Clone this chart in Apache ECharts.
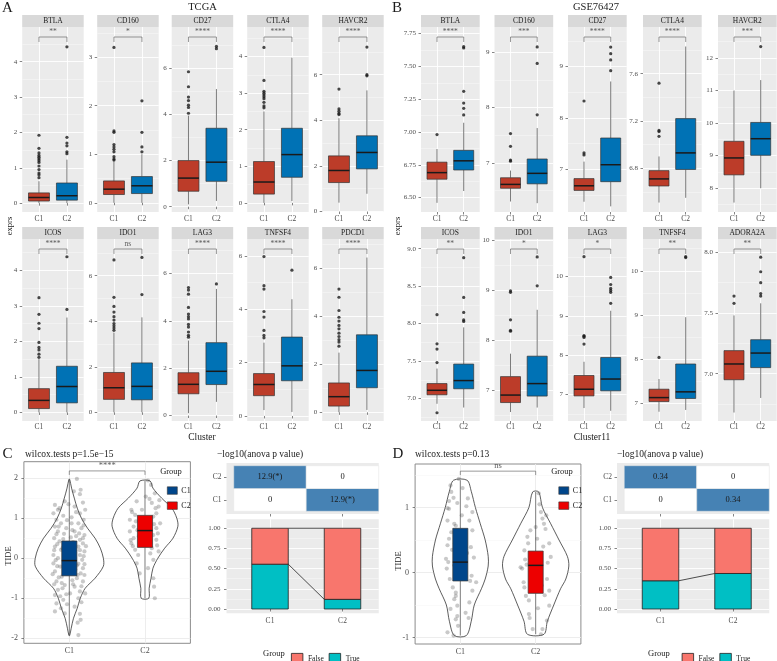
<!DOCTYPE html>
<html><head><meta charset="utf-8">
<script src="https://cdn.jsdelivr.net/npm/echarts@6/dist/echarts.min.js"></script>
<style>html,body{margin:0;padding:0;background:#fff}#c{width:777px;height:661px}</style>
</head><body><div id="c"></div>
<script>
const FONT = '"Liberation Serif","DejaVu Serif",serif';
const clusterCats = ['C1', 'C2'];

// ---------- Panel A : TCGA ----------
const tcgaGenes = ['BTLA','CD160','CD27','CTLA4','HAVCR2','ICOS','IDO1','LAG3','TNFSF4','PDCD1'];
const tcgaSig = ['**','*','****','****','****','****','ns','****','****','****'];
const tcgaTickLabels = [['0','1','2','3','4'],['0','1','2','3'],['0','2','4','6'],['0','1','2','3','4'],['0','2','4','6'],
                        ['0','1','2','3','4'],['0','2','4','6'],['0','2','4','6'],['0','2','4','6'],['0','2','4','6']];
const tcgaYMin = [-0.25,-0.19,-0.23,-0.25,-0.02,-0.24,-0.38,-0.23,-0.19,-0.36];
const tcgaYMax = [4.98,3.62,7.79,4.81,8.09,4.88,7.61,7.46,6.64,7.2];
// [lower whisker, q1, median, q3, upper whisker]
const tcgaC1Box = [[0,0.06,0.16,0.29,0.62],[0,0.17,0.28,0.45,0.85],[0.1,0.67,1.24,2.0,3.95],[0,0.24,0.57,1.13,2.5],[0.39,1.27,1.8,2.44,4.09],
                   [0,0.11,0.34,0.67,1.5],[0,0.57,1.08,1.75,3.5],[0.1,0.92,1.32,1.81,3.17],[0.22,0.76,1.18,1.59,2.75],[0,0.26,0.65,1.22,2.48]];
const tcgaC2Box = [[0,0.085,0.21,0.57,1.23],[0,0.19,0.35,0.54,1.0],[0.25,1.1,1.93,3.4,5.1],[0.05,0.7,1.32,2.04,3.97],[0.78,1.87,2.59,3.32,5.31],
                   [0,0.27,0.73,1.3,2.67],[0,0.55,1.14,2.17,4.17],[0.58,1.31,1.87,3.08,5.35],[0.15,1.32,1.88,2.96,4.38],[0.1,1.02,1.74,3.22,6.43]];
const tcgaC1Out = [[1.92,1.55,1.42,1.35,1.3,1.25,1.2,1.15,1.05,0.95,0.85,0.8,0.72],[3.2,1.48,1.45,1.2,1.15,1.1,1.05,0.95,0.9,0.88],
                   [5.85,5.2,4.75,4.6,4.4,4.3,4.05],[4.25,3.35,3.05,3.0,2.95,2.9,2.85,2.75,2.65,2.6],[5.37,4.5,4.4,4.3,4.25],
                   [3.23,2.76,2.51,2.36,1.97,1.83,1.76,1.64,1.55],[6.69,5.05,4.65,4.4,4.2,4.05,3.9,3.8,3.7,3.6],
                   [5.41,5.3,5.13,4.57,4.29,4.18,4.08,3.85,3.74,3.53,3.39,3.31],[5.98,4.89,4.76,3.92,3.71,3.21,3.02,2.93],
                   [5.12,4.78,4.23,3.95,3.79,3.61,3.47,3.29,3.15,3.02,2.92,2.75]];
const tcgaC2Out = [[4.42,1.86,1.7,1.62,1.45,1.4],[2.1,1.45,1.15,1.05],[6.85,6.95],[],[7.21,6.0,5.95],
                   [4.38,2.9],[6.8,5.17],[5.56],[5.47],[]];

// ---------- Panel B : GSE76427 ----------
const gseGenes = ['BTLA','CD160','CD27','CTLA4','HAVCR2','ICOS','IDO1','LAG3','TNFSF4','ADORA2A'];
const gseSig = ['****','***','****','****','***','**','*','*','**','**'];
const gseTickLabels = [['6.50','6.75','7.00','7.25','7.50','7.75'],['7','8','9'],['7','8','9'],['6.8','7.2','7.6'],['8','9','10','11','12'],
                       ['7.0','7.5','8.0','8.5','9.0'],['7','8','9','10'],['7','8','9','10'],['7','8','9','10'],['7.0','7.5','8.0']];
const gseYMin = [6.39,6.11,6.17,6.43,7.27,6.70,6.38,6.32,6.60,6.61];
const gseYMax = [7.80,9.46,9.77,7.995,12.95,9.13,10.03,10.96,10.72,8.11];
const gseC1Box = [[6.46,6.64,6.69,6.77,6.87],[6.3,6.54,6.61,6.73,6.86],[6.37,6.59,6.68,6.82,7.15],[6.51,6.65,6.71,6.78,6.9],[7.56,8.41,8.93,9.44,11.0],
                  [6.93,7.05,7.11,7.2,7.4],[6.56,6.75,6.9,7.27,7.73],[6.65,6.96,7.13,7.48,7.83],[6.81,7.04,7.13,7.32,7.55],[6.68,6.95,7.08,7.19,7.48]];
const gseC2Box = [[6.55,6.71,6.78,6.86,7.07],[6.27,6.62,6.81,7.07,7.63],[6.28,6.76,7.09,7.61,8.71],[6.55,6.79,6.93,7.22,7.83],[8.0,9.01,9.52,10.02,11.32],
                  [6.88,7.13,7.24,7.46,7.95],[6.65,6.88,7.13,7.68,8.61],[6.58,7.09,7.39,7.94,9.13],[6.85,7.11,7.26,7.89,8.95],[6.8,7.05,7.17,7.28,7.58]];
const gseC1Out = [[6.98],[7.03,7.05,7.3,7.53],[7.28,7.32,8.33],[7.07,7.11,7.12,7.52],[],
                  [8.12,7.73,7.66,7.48,6.81],[8.18,8.2,8.41,8.96,8.99],[8.28,8.45,8.48,8.5,10.51],[8.04],[7.58,7.64]];
const gseC2Out = [[7.13,7.18,7.22,7.31,7.64,7.65],[7.87,8.8,9.1],[8.92,9.13,9.25,9.38],[],[12.35],
                  [8.03,8.05,8.15,8.35,8.88],[9.09,9.67],[9.32,9.6,9.65,9.7,9.8,9.98],[10.3,10.32],[7.64,7.66,7.75,7.84,7.96]];

// ---------- Panel C / D : TIDE violins ----------
const cTicks = ['-2','-1','0','1','2'];
const dTicks = ['-1','0','1'];
const cViolinC1 = [[1.97,0.005],[1.75,0.03],[1.5,0.066],[1.25,0.105],[1.0,0.16],[0.75,0.24],[0.5,0.34],[0.25,0.41],[0,0.45],[-0.2,0.45],[-0.5,0.34],[-0.75,0.21],[-1,0.145],[-1.25,0.105],[-1.5,0.055],[-1.75,0.025],[-1.93,0.005]];
const cViolinC2 = [[1.93,0.066],[1.75,0.105],[1.5,0.22],[1.25,0.355],[1.0,0.42],[0.8,0.435],[0.5,0.37],[0.25,0.26],[0,0.17],[-0.25,0.105],[-0.5,0.08],[-0.75,0.055],[-1.0,0.05]];
const dViolinC1 = [[1.42,0.09],[1.25,0.145],[1.0,0.2],[0.75,0.265],[0.5,0.33],[0.25,0.37],[0.1,0.37],[-0.1,0.33],[-0.25,0.28],[-0.5,0.185],[-0.75,0.145],[-0.97,0.08]];
const dViolinC2 = [[1.24,0.04],[1.0,0.09],[0.75,0.2],[0.5,0.31],[0.25,0.42],[0.1,0.44],[-0.1,0.4],[-0.25,0.33],[-0.5,0.24],[-0.75,0.155],[-0.95,0.11]];
const cBoxC1 = [-1.93,-0.44,-0.06,0.43,1.97];
const cBoxC2 = [-1.0,0.27,0.69,1.07,1.93];
const dBoxC1 = [-0.97,-0.13,0.16,0.68,1.42];
const dBoxC2 = [-0.95,-0.32,0.11,0.33,1.24];
const cSigLevels = [2.08, 2.18]; const cSigText = '****';
const dSigLevels = [1.50, 1.56]; const dSigText = 'ns';
// jitter points: [offset from group centre, TIDE]
const cPtsC1 = [[0.10,1.98],[0.15,1.71],[0.06,1.67],[0.14,1.60],[-0.06,1.42],[0.18,1.39],[-0.19,1.33],[0.07,1.29],[-0.15,1.21],[0.21,1.21],[-0.21,1.12],[0.14,1.12],[-0.08,1.06],[0.03,1.02],[-0.17,0.96],[0.19,0.96],[-0.11,0.87],[0.12,0.87],[-0.19,0.79],[-0.04,0.75],[0.16,0.75],[-0.15,0.67],[0.07,0.67],[-0.07,0.61],[0.2,0.58],[-0.2,0.50],[0.02,0.52],[0.14,0.46],[-0.13,0.42],[0.18,0.37],[-0.19,0.29],[0.12,0.29],[-0.11,0.21],[0.2,0.17],[-0.21,0.08],[0.14,0.08],[-0.15,0.0],[0.17,-0.04],[-0.21,-0.13],[0.12,-0.14],[-0.12,-0.21],[0.18,-0.25],[-0.19,-0.33],[0.15,-0.38],[-0.10,-0.46],[0.10,-0.50],[-0.17,-0.58],[0.18,-0.58],[-0.06,-0.67],[0.07,-0.71],[-0.15,-0.79],[0.14,-0.83],[-0.19,-0.92],[0.01,-0.88],[-0.08,-1.04],[0.12,-1.0],[-0.17,-1.13],[0.07,-1.21],[-0.11,-1.25],[-0.06,-1.38],[0.14,-1.39],[-0.19,-1.33],[0.15,-1.54],[0.11,-1.61],[0.12,-1.92],[-0.14,0.79],[0.03,0.87],[-0.01,0.29],[-0.07,0.08],[0.07,0.0],[-0.03,0.95],[0.09,0.55],[-0.16,0.35],[0.05,0.40],[-0.09,0.25],[0.19,0.05],[-0.18,-0.05],[0.10,-0.18],[-0.05,-0.30],[0.20,-0.42],[-0.14,-0.48],[0.04,-0.55],[-0.20,-0.65],[0.16,-0.70],[-0.09,-0.75],[0.21,-0.88],[-0.12,-0.95],[0.09,1.15],[-0.13,1.25],[0.04,0.70],[-0.17,0.60],[0.13,0.62],[-0.04,-0.90],[0.16,-1.10],[-0.20,0.20],[0.22,0.30],[-0.06,0.15],[0.08,-0.28],[-0.10,-0.62],[0.19,0.82],[-0.01,1.35],[0.11,-0.42],[-0.16,-0.20],[0.18,0.50],[-0.22,-0.40],[0.05,-0.65],[-0.08,0.48],[0.14,0.20],[-0.03,-1.15],[0.20,-0.15]];
const cPtsC2 = [[0.04,1.94],[0.08,1.83],[0.13,1.62],[0.01,1.54],[-0.11,1.42],[0.09,1.38],[0.18,1.29],[-0.18,1.21],[-0.04,1.21],[0.15,1.12],[-0.13,1.08],[0.11,1.04],[-0.20,0.96],[0.20,0.87],[-0.15,0.79],[0.15,0.75],[-0.20,0.67],[0.11,0.58],[-0.15,0.50],[0.15,0.46],[-0.18,0.37],[0.09,0.25],[-0.13,0.21],[0.18,0.17],[-0.09,0.08],[0.11,-0.04],[-0.11,-0.13],[0.04,-0.25],[-0.07,-0.38],[0.11,-0.50],[0.12,-0.71],[0.13,-1.0],[0.05,0.95],[-0.06,0.88],[0.17,0.62],[-0.10,0.70],[0.02,0.40],[-0.16,0.30],[0.14,1.25],[-0.02,1.00],[0.19,1.45],[-0.08,0.55],[0.07,0.12],[-0.17,1.15],[0.06,1.48],[-0.12,0.92],[0.16,0.32],[-0.03,0.65],[0.12,0.85],[-0.19,0.45]];
const dPtsC1 = [[-0.02,1.44],[-0.13,1.34],[-0.12,1.24],[-0.09,1.15],[-0.04,1.07],[0.10,1.14],[0.16,0.93],[-0.15,0.98],[0.12,0.80],[-0.17,0.80],[-0.06,0.72],[0.16,0.65],[-0.15,0.52],[-0.17,0.42],[0.14,0.39],[-0.19,0.21],[-0.16,0.16],[-0.18,0.06],[-0.08,0.11],[0.13,-0.13],[0.21,-0.15],[0.16,-0.28],[-0.06,-0.31],[-0.06,-0.36],[-0.08,-0.41],[0.12,-0.46],[-0.04,-0.51],[-0.13,-0.56],[-0.04,-0.67],[-0.06,-0.72],[-0.17,-0.92],[-0.09,-0.97],[-0.08,0.75],[-0.17,0.99],[0.03,1.30],[0.08,1.02],[-0.11,0.35],[0.05,0.57],[-0.14,-0.10],[0.18,0.23],[-0.10,-0.23],[0.07,-0.62],[-0.12,0.62],[0.09,0.30],[-0.03,-0.82],[0.11,-0.70],[-0.15,1.10],[0.02,0.88],[-0.07,0.45],[0.15,-0.05]];
const dPtsC2 = [[0.04,1.22],[0.07,0.93],[0.09,0.83],[0.11,0.75],[0.0,0.70],[-0.07,0.65],[-0.11,0.55],[0.18,0.45],[-0.15,0.34],[0.20,0.24],[-0.20,0.08],[-0.18,0.06],[0.15,-0.10],[-0.15,-0.23],[0.18,-0.28],[-0.13,-0.36],[-0.09,-0.43],[0.18,-0.51],[-0.09,-0.64],[0.15,-0.74],[0.09,-0.87],[-0.04,-0.87],[0.07,-0.95],[-0.02,0.21],[0.13,0.67],[0.05,1.05],[-0.12,0.12],[0.10,0.40],[-0.06,-0.05],[0.16,0.15],[-0.16,-0.15],[0.03,-0.55],[-0.10,0.45],[0.12,-0.35],[-0.05,0.30],[0.08,-0.20],[0.14,0.88],[-0.08,-0.70],[0.02,0.52],[-0.14,0.20]];

// ---------- heatmaps (-log10 anova p) : rows C1, C2 ; columns C1, C2 ----------
const cHeatVals = [[0,12.9],[12.9,0]];
const cHeatText = [['0','12.9(*)'],['12.9(*)','0']];
const dHeatVals = [[0,0.34],[0.34,0]];
const dHeatText = [['0','0.34'],['0.34','0']];

// ---------- proportion bars ----------
const propTicks = ['0.00','0.25','0.50','0.75','1.00'];
const cTrue = [0.555, 0.12], cFalse = [0.445, 0.88];
const dTrue = [0.35, 0.44], dFalse = [0.65, 0.56];

// ================= build =================
const COL_A = ['#BC3C29', '#0072B5'];
const COL_V = ['#00468B', '#ED0000'];
const grid = [], xAxis = [], yAxis = [], series = [], graphic = [], legend = [];

function txt(text, x, y, size, o) {
  o = o || {};
  graphic.push({type:'text', x, y, rotation:o.rot||0, silent:true, z:100,
    style:{text, fontSize:size, fontFamily:FONT, fill:o.color||'#1A1A1A', align:o.align||'center', verticalAlign:'middle'}});
}
function minorsOf(ticks, mn, mx) {
  const step = ticks[1]-ticks[0], out=[];
  for (let k=-1;k<ticks.length;k++){ const m = ticks[0]+(k+0.5)*step; if (m>mn && m<mx) out.push(m); }
  return out;
}
function addPanel(g, xOpt, yOpt, minorY, minorColor) {
  const gi = grid.length;
  grid.push(Object.assign({outerBoundsMode:'none', containLabel:false}, g));
  const xi = xAxis.length; xAxis.push(Object.assign({gridIndex:gi}, xOpt));
  if (minorY) yAxis.push({gridIndex:gi, type:'value', position:'left', min:yOpt.min, max:yOpt.max, axisLine:{show:false},
    axisLabel:{show:false}, axisTick:{show:false, customValues:minorY}, splitLine:{show:true, lineStyle:{color:minorColor, width:0.5}}});
  const yi = yAxis.length; yAxis.push(Object.assign({gridIndex:gi, position:'left'}, yOpt));
  return {xi, yi};
}
function catX(o) {
  o = o || {};
  return {type:'value', min:o.min!=null?o.min:0.4, max:o.max!=null?o.max:2.6, axisLine:{show:false},
    axisTick:{show:true, customValues:[1,2], length:2.5, lineStyle:{color:'#333', width:0.6}},
    axisLabel:{show:o.labels!==false, customValues:[1,2], formatter:v=>clusterCats[Math.round(v)-1]||'', fontSize:o.fs||7.5, color:'#4D4D4D', fontFamily:FONT, margin:o.margin||3},
    splitLine:{show:o.split!==false, lineStyle:{color:o.splitColor||'#fff', width:0.9}}};
}
function valY(labels, mn, mx, o) {
  o = o || {};
  const ticks = labels.map(Number);
  return {type:'value', min:mn, max:mx, axisLine:{show:false},
    axisTick:{show:true, customValues:ticks, length:2.5, lineStyle:{color:'#333', width:0.6}},
    axisLabel:{show:true, customValues:ticks, formatter:v=>{const k=ticks.findIndex(t=>Math.abs(t-v)<1e-6); return k>=0?labels[k]:'';},
      fontSize:o.fs||7, color:'#4D4D4D', fontFamily:FONT, margin:o.margin||5},
    splitLine:{show:o.split!==false, lineStyle:{color:o.splitColor||'#fff', width:0.9}}};
}
function boxRender(colors, w, whiskerColor) {
  return function(params, api) {
    const x=api.value(0), mn=api.value(1), q1=api.value(2), md=api.value(3), q3=api.value(4), mx=api.value(5);
    const h=w/2;
    const a=api.coord([x,mn]), b=api.coord([x,q1]), c=api.coord([x,q3]), d=api.coord([x,mx]);
    const lb=api.coord([x-h,q1]), rt=api.coord([x+h,q3]), ml=api.coord([x-h,md]), mr=api.coord([x+h,md]);
    const ls={stroke:whiskerColor||'#333', lineWidth:0.7};
    return {type:'group', children:[
      {type:'line', shape:{x1:a[0],y1:a[1],x2:b[0],y2:b[1]}, style:ls},
      {type:'line', shape:{x1:c[0],y1:c[1],x2:d[0],y2:d[1]}, style:ls},
      {type:'rect', shape:{x:lb[0], y:rt[1], width:rt[0]-lb[0], height:lb[1]-rt[1]}, style:{fill:colors[params.dataIndex%colors.length], stroke:'#333', lineWidth:0.7}},
      {type:'line', shape:{x1:ml[0],y1:ml[1],x2:mr[0],y2:mr[1]}, style:{stroke:'#1A1A1A', lineWidth:1.5}}
    ]};
  };
}
function addBracket(ax, levels, text, fs) {
  series.push({type:'line', xAxisIndex:ax.xi, yAxisIndex:ax.yi, silent:true, symbol:'none', z:5,
    data:[[1,levels[0]],[1,levels[1]],[2,levels[1]],[2,levels[0]]], lineStyle:{color:'#555', width:0.6}});
  series.push({type:'scatter', xAxisIndex:ax.xi, yAxisIndex:ax.yi, silent:true, symbolSize:1, itemStyle:{color:'rgba(0,0,0,0)'}, z:5,
    data:[[1.5, levels[1]]], label:{show:true, position:'top', distance:0, formatter:text, fontSize:fs, color:'#333', fontFamily:FONT}});
}

// facet blocks
const ROW_TOP=[27,239], ROW_H=[185,182], STRIP_TOP=[15,227], STRIP_H=12;
function facetBlock(genes, sigs, tickLabels, yMin, yMax, b1, b2, o1, o2, lefts, w) {
  genes.forEach((gene,i)=>{
    const row=Math.floor(i/5), col=i%5, left=lefts[col], top=ROW_TOP[row], h=ROW_H[row];
    const ticks=tickLabels[i].map(Number);
    const ax = addPanel({left, top, width:w, height:h, show:true, backgroundColor:'#EBEBEB', borderWidth:0},
      catX({margin: row===0?3:2.5}), valY(tickLabels[i], yMin[i], yMax[i]), minorsOf(ticks, yMin[i], yMax[i]), '#F8F8F8');
    series.push({type:'custom', xAxisIndex:ax.xi, yAxisIndex:ax.yi, silent:true, z:2,
      renderItem:boxRender(COL_A, 0.75, '#444'), data:[[1].concat(b1[i]), [2].concat(b2[i])]});
    series.push({type:'scatter', xAxisIndex:ax.xi, yAxisIndex:ax.yi, silent:true, z:3, symbolSize:3.2,
      itemStyle:{color:'#1A1A1A'}, data:o1[i].map(v=>[1,v]).concat(o2[i].map(v=>[2,v]))});
    const r=yMax[i]-yMin[i];
    addBracket(ax, [yMax[i]-r*15/h, yMax[i]-r*10/h], sigs[i], 7.5);
    graphic.push({type:'rect', silent:true, shape:{x:left, y:STRIP_TOP[row], width:w, height:STRIP_H}, style:{fill:'#D9D9D9'}});
    txt(gene, left+w/2, STRIP_TOP[row]+STRIP_H/2+0.5, 7.5);
  });
}
facetBlock(tcgaGenes, tcgaSig, tcgaTickLabels, tcgaYMin, tcgaYMax, tcgaC1Box, tcgaC2Box, tcgaC1Out, tcgaC2Out, [22.2,97.2,171.7,247.2,322.2], 61.5);
facetBlock(gseGenes, gseSig, gseTickLabels, gseYMin, gseYMax, gseC1Box, gseC2Box, gseC1Out, gseC2Out, [421,494.5,568,643,718], 58.7);

// violin panels
function violinRender(profiles) {
  return function(params, api) {
    const x=api.value(0), prof=profiles[params.dataIndex], pts=[];
    prof.forEach(p=>pts.push(api.coord([x-p[1], p[0]])));
    for (let k=prof.length-1;k>=0;k--) pts.push(api.coord([x+prof[k][1], prof[k][0]]));
    return {type:'polygon', shape:{points:pts, smooth:0.3}, style:{fill:'#fff', stroke:'#333', lineWidth:0.8}};
  };
}
function violinPanel(g, ticks, mn, mx, prof1, prof2, box1, box2, pts1, pts2, sigLv, sigTxt, legendPos) {
  const tv=ticks.map(Number);
  const ax = addPanel(Object.assign({show:true, backgroundColor:'#fff', borderColor:'#8C8C8C', borderWidth:1}, g),
    catX({splitColor:'#EBEBEB', fs:8, margin:4}), valY(ticks, mn, mx, {splitColor:'#EBEBEB', fs:8, margin:6}), minorsOf(tv, mn, mx), '#F4F4F4');
  series.push({type:'custom', xAxisIndex:ax.xi, yAxisIndex:ax.yi, silent:true, z:2, renderItem:violinRender([prof1, prof2]), data:[[1,0],[2,0]]});
  series.push({type:'scatter', xAxisIndex:ax.xi, yAxisIndex:ax.yi, silent:true, z:3, symbolSize:4.2,
    itemStyle:{color:'rgba(95,95,95,0.42)'}, data:pts1.map(p=>[1+p[0],p[1]]).concat(pts2.map(p=>[2+p[0],p[1]]))});
  series.push({type:'custom', name:'C1', xAxisIndex:ax.xi, yAxisIndex:ax.yi, silent:true, z:4, itemStyle:{color:COL_V[0]},
    renderItem:boxRender([COL_V[0]], 0.2, '#444'), data:[[1].concat(box1)]});
  series.push({type:'custom', name:'C2', xAxisIndex:ax.xi, yAxisIndex:ax.yi, silent:true, z:4, itemStyle:{color:COL_V[1]},
    renderItem:boxRender([COL_V[1]], 0.2, '#444'), data:[[2].concat(box2)]});
  addBracket(ax, sigLv, sigTxt, 8.5);
  legend.push({data:['C1','C2'], left:legendPos[0], top:legendPos[1], orient:'vertical', icon:'rect', itemWidth:10, itemHeight:7.5, itemGap:7,
    selectedMode:false, itemStyle:{borderColor:'#333', borderWidth:0.6}, textStyle:{fontSize:8, fontFamily:FONT, color:'#1A1A1A', padding:[0,0,0,-1]}});
}
violinPanel({left:23.9, top:461.7, width:166.5, height:181.6}, cTicks, -2.125, 2.41, cViolinC1, cViolinC2, cBoxC1, cBoxC2, cPtsC1, cPtsC2, cSigLevels, cSigText, [162, 481.5]);
violinPanel({left:415.1, top:464, width:165.8, height:180}, dTicks, -1.10, 1.67, dViolinC1, dViolinC2, dBoxC1, dBoxC2, dPtsC1, dPtsC2, dSigLevels, dSigText, [553.5, 481.5]);

// heatmaps
function heatPanel(left, vals, texts) {
  const ax = addPanel({left, top:463, width:152.25, height:51, show:true, backgroundColor:'#EBEBEB', borderWidth:0},
    catX({min:0.4, max:2.5, labels:false, split:false}),
    {type:'value', min:0.38, max:2.62, axisLine:{show:false},
      axisTick:{show:true, customValues:[1,2], length:2.5, lineStyle:{color:'#333', width:0.6}},
      axisLabel:{customValues:[1,2], formatter:v=>clusterCats[Math.round(v)-1]||'', fontSize:7.5, color:'#4D4D4D', fontFamily:FONT, margin:5},
      splitLine:{show:false}});
  const data=[];
  vals.forEach((row,r)=>row.forEach((v,c)=>data.push([c+1, r+1, v])));
  series.push({type:'custom', xAxisIndex:ax.xi, yAxisIndex:ax.yi, silent:true, z:3, data,
    renderItem:function(params, api){
      const c=api.value(0), r=api.value(1), v=api.value(2);
      const p0=api.coord([c-0.5, r+0.5]), p1=api.coord([c+0.5, r-0.5]), ctr=api.coord([c, r]);
      return {type:'group', children:[
        {type:'rect', shape:{x:p0[0], y:p0[1], width:p1[0]-p0[0], height:p1[1]-p0[1]}, style:{fill: v>0?'#4682B4':'#FFFFFF', stroke:'#E6E6E6', lineWidth:0.5}},
        {type:'text', x:ctr[0], y:ctr[1], style:{text:texts[r-1][c-1], align:'center', verticalAlign:'middle', fontSize:8.5, fontFamily:FONT, fill:'#1A1A1A'}}
      ]};
    }});
}
heatPanel(226.5, cHeatVals, cHeatText);
heatPanel(617, dHeatVals, dHeatText);

// proportion bars (stacked: True at bottom, False on top)
function segRender(halfPx) {
  return function(params, api) {
    const u=api.size([1,0])[0], off=halfPx/u, x=api.value(0);
    const a=api.coord([x-off, api.value(2)]), b=api.coord([x+off, api.value(1)]);
    return {type:'rect', shape:{x:a[0], y:a[1], width:b[0]-a[0], height:b[1]-a[1]},
      style:{fill:api.visual('color'), stroke:'#222', lineWidth:0.8}};
  };
}
function barPanel(left, tr, fa, legendLeft) {
  const tv=propTicks.map(Number);
  const ax = addPanel({left, top:519.3, width:152.25, height:94, show:true, backgroundColor:'#EBEBEB', borderWidth:0},
    catX({min:0.4, max:2.5, margin:4}), valY(propTicks, -0.053, 1.111, {margin:6}), minorsOf(tv, -0.053, 1.111), '#F8F8F8');
  series.push({type:'custom', name:'True', xAxisIndex:ax.xi, yAxisIndex:ax.yi, silent:true, z:3, itemStyle:{color:'#00BFC4', borderColor:'#222', borderWidth:0.8},
    renderItem:segRender(18.25), data:tr.map((v,i)=>[i+1, 0, v])});
  series.push({type:'custom', name:'False', xAxisIndex:ax.xi, yAxisIndex:ax.yi, silent:true, z:3, itemStyle:{color:'#F8766D', borderColor:'#222', borderWidth:0.8},
    renderItem:segRender(18.25), data:fa.map((v,i)=>[i+1, tr[i], tr[i]+v])});
  series.push({type:'custom', xAxisIndex:ax.xi, yAxisIndex:ax.yi, silent:true, z:5,
    data:[[1, tr[0], 2, tr[1]], [1, tr[0]+fa[0], 2, tr[1]+fa[1]]],
    renderItem:function(params, api){
      const u=api.size([1,0])[0], off=18.25/u;
      const a=api.coord([api.value(0)+off, api.value(1)]), b=api.coord([api.value(2)-off, api.value(3)]);
      return {type:'line', shape:{x1:a[0],y1:a[1],x2:b[0],y2:b[1]}, style:{stroke:'#222', lineWidth:0.8}};
    }});
  legend.push({data:['False','True'], left:legendLeft, top:648, orient:'horizontal', icon:'rect', itemWidth:11.5, itemHeight:11, itemGap:5,
    selectedMode:false, itemStyle:{borderColor:'#222', borderWidth:0.8}, textStyle:{fontSize:7.5, fontFamily:FONT, color:'#1A1A1A'}});
}
barPanel(226.5, cTrue, cFalse, 286);
barPanel(617, dTrue, dFalse, 676.7);

// texts
const ROT = Math.PI/2;
txt('A', 7.5, 8.5, 15); txt('TCGA', 202.5, 7.5, 10.5);
txt('B', 397, 8.5, 15); txt('GSE76427', 596, 7.5, 10.5);
txt('exprs', 10, 226, 8.5, {rot:ROT}); txt('exprs', 397.5, 226, 8.5, {rot:ROT});
txt('Cluster', 202, 437, 9.5); txt('Cluster11', 592, 437, 9.5);
txt('C', 7.5, 454, 15); txt('wilcox.tests p=1.5e\u221215', 25, 454, 9.5, {align:'left'});
txt('\u2212log10(anova p value)', 217, 454, 9.5, {align:'left'});
txt('D', 398, 454, 15); txt('wilcox.tests p=0.13', 415, 454, 9.5, {align:'left'});
txt('\u2212log10(anova p value)', 617, 454, 9.5, {align:'left'});
txt('TIDE', 8.3, 556, 8.5, {rot:ROT}); txt('TIDE', 398.3, 561, 8.5, {rot:ROT});
txt('Group', 171, 471.5, 8.5); txt('Group', 562, 471.3, 8.5);
txt('Group', 263, 653.5, 8.5, {align:'left'}); txt('Group', 648, 653.5, 8.5, {align:'left'});

const chart = echarts.init(document.getElementById('c'), null, {renderer:'canvas'});
chart.setOption({animation:false, backgroundColor:'#fff', grid, xAxis, yAxis, series, legend, graphic});
</script></body></html>
